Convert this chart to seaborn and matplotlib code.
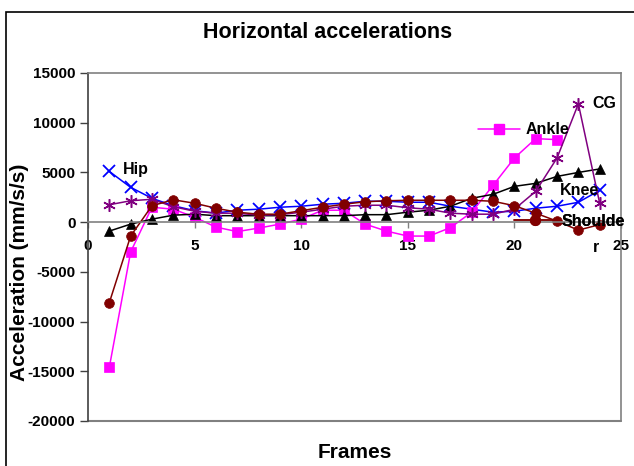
import numpy as np
import pandas as pd
import seaborn as sns
import matplotlib.pyplot as plt
from matplotlib.lines import Line2D
from matplotlib.patches import Rectangle


# -----------------------------
# DATA
# -----------------------------
frames = list(range(1, 25))

hip = [5100, 3500, 2400, 1650, 1150, 900, 1200, 1300, 1500, 1600, 1800, 1900,
       2100, 2100, 2000, 2000, 1600, 1300, 1000, 1100, 1400, 1600, 2000, 3200]
ankle = [-14600, -3000, 1500, 1300, 500, -500, -950, -600, -200, 300, 1200, 1200,
         -200, -900, -1400, -1400, -550, 1000, 3700, 6450, 8400, 8300, np.nan, np.nan]
knee = [-900, -200, 300, 700, 800, 650, 650, 650, 650, 650, 650, 650,
        750, 750, 1000, 1200, 1600, 2400, 2800, 3600, 3900, 4600, 5000, 5350]
cg = [1750, 2150, 2300, 1550, 1100, 900, 900, 700, 750, 1000, 1300, 1600,
      1700, 1700, 1450, 1300, 900, 800, 800, 1300, 3100, 6450, 11900, 1900]
shoulder = [-8100, -1400, 1650, 2250, 1900, 1400, 1000, 800, 800, 1150, 1500, 1800,
            2050, 2150, 2200, 2200, 2200, 2200, 2100, 1650, 900, 100, -800, -250]

series_names = ["Hip", "Ankle", "Knee", "CG", "Shoulder"]

df = pd.DataFrame({
    "Frame": frames,
    "Hip": hip,
    "Ankle": ankle,
    "Knee": knee,
    "CG": cg,
    "Shoulder": shoulder,
}).melt(id_vars="Frame", var_name="Series", value_name="Acceleration")


# -----------------------------
# STYLE
# -----------------------------
colors = {"Hip": "#0000FF", "Ankle": "#FF00FF", "Knee": "#000000",
          "CG": "#800080", "Shoulder": "#800000"}
markers = {"Hip": "x", "Ankle": "s", "Knee": "^", "CG": (6, 2, 0), "Shoulder": "o"}
msizes = {"Hip": 8, "Ankle": 6.5, "Knee": 7, "CG": 9, "Shoulder": 7}
mews = {"Hip": 1.3, "Ankle": 0.5, "Knee": 0.5, "CG": 1.1, "Shoulder": 0.5}

sns.set_theme(style="white")
plt.rcParams["font.family"] = ["Liberation Sans", "DejaVu Sans"]
plt.rcParams["font.weight"] = "bold"
plt.rcParams["axes.unicode_minus"] = False
for k in ["text.color", "axes.labelcolor", "xtick.labelcolor", "ytick.labelcolor"]:
    plt.rcParams[k] = "black"

fig = plt.figure(figsize=(6.34, 4.66), dpi=100)
ax = fig.add_axes([88 / 634, 45 / 466, 533 / 634, 348 / 466])

# outer chart border
fig.patches.append(Rectangle((6 / 634, -0.05), 1.1, 1 - 12 / 466 + 0.05,
                             transform=fig.transFigure, fill=False,
                             edgecolor="black", linewidth=1.2))


# -----------------------------
# PLOT
# -----------------------------
for name in series_names:
    sub = df[df["Series"] == name].dropna()
    sns.lineplot(data=sub, x="Frame", y="Acceleration", ax=ax,
                 color=colors[name], marker=markers[name],
                 markersize=msizes[name], markeredgecolor=colors[name],
                 markeredgewidth=mews[name], linewidth=1.1,
                 errorbar=None, legend=False)

ax.set_xlim(0, 25)
ax.set_ylim(-20000, 15000)
ax.set_xticks(range(0, 26, 5))
ax.set_yticks(range(-20000, 15001, 5000))
ax.set_xlabel("")
ax.set_ylabel("")

grey = "#808080"
ax.spines["bottom"].set_position(("data", 0))
ax.spines["bottom"].set_color(grey)
ax.spines["top"].set_color(grey)
ax.spines["right"].set_color(grey)
ax.spines["left"].set_color("#404040")
for s in ax.spines.values():
    s.set_linewidth(1.2)
ax.axhline(-20000, color=grey, linewidth=1.5, clip_on=False)

ax.tick_params(axis="x", direction="out", length=4, width=1, color=grey,
               labelsize=11, pad=8, bottom=True)
ax.tick_params(axis="y", direction="out", length=6, width=1, color="#404040",
               labelsize=11, pad=3, left=True)

# inline series labels
lab = dict(fontsize=11.5, fontweight="bold", va="center", clip_on=False)
ax.text(1.64, 5250, "Hip", ha="left", **lab)
ax.text(23.64, 11900, "CG", ha="left", **lab)
ax.text(22.14, 3150, "Knee", ha="left", **lab)
ax.text(23.83, -2600, "r", ha="center", **lab)

for name, label, anchor in [("Ankle", "Ankle", (18.3, 9300)),
                            ("Shoulder", "Shoulde", (19.98, 100))]:
    h = Line2D([], [], color=colors[name], marker=markers[name],
               markersize=msizes[name], markeredgecolor=colors[name],
               linewidth=1.1)
    leg = ax.legend(handles=[h], labels=[label], loc="center left",
                    bbox_to_anchor=anchor, bbox_transform=ax.transData,
                    frameon=False, borderpad=0, borderaxespad=0,
                    handlelength=2.6, handletextpad=0.4, numpoints=1,
                    prop={"weight": "bold", "size": 11.5})
    ax.add_artist(leg)

fig.text(328 / 634, 1 - 33 / 466, "Horizontal accelerations",
         ha="center", va="center", fontsize=15.5, fontweight="bold")
fig.text(20 / 634, 1 - 272 / 466, "Acceleration (mm/s/s)", rotation=90,
         ha="center", va="center", fontsize=15, fontweight="bold")
fig.text(355 / 634, 1 - 452 / 466, "Frames",
         ha="center", va="center", fontsize=15, fontweight="bold")

fig.savefig("out.png", dpi=100)
